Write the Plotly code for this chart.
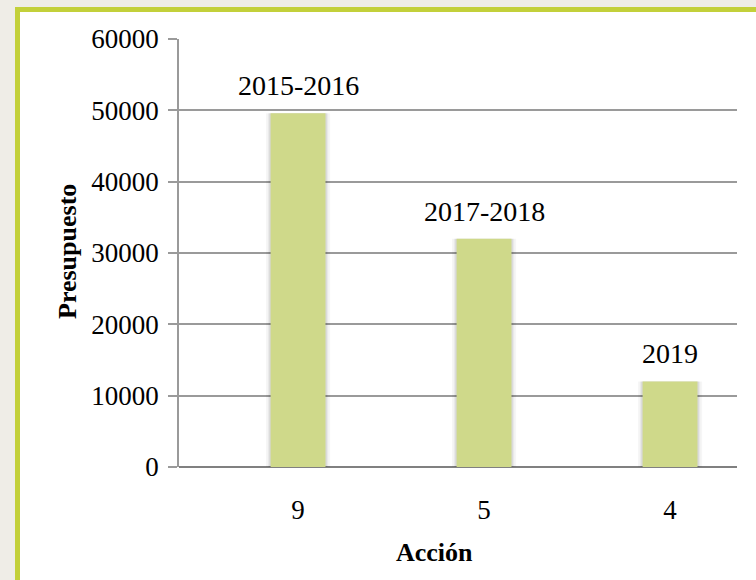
import plotly.graph_objects as go

categories = ["9", "5", "4"]
values = [49600, 32000, 12000]
bar_labels = ["2015-2016", "2017-2018", "2019"]
y_ticks = [0, 10000, 20000, 30000, 40000, 50000, 60000]
y_tick_text = [str(v) for v in y_ticks]
x_title = "Acción"
y_title = "Presupuesto"

W, H = 756, 580
L, R, T, B = 179, 19, 39, 113
pw, ph = W - L - R, H - T - B

def px_x(px):
    return (px - L) / pw

def px_y(py):
    return (H - B - py) / ph

serif = "Liberation Serif, Times New Roman, serif"

fig = go.Figure()
# soft shadow layers behind the bars
for w, a in [(0.345, 0.035), (0.325, 0.05), (0.31, 0.07)]:
    fig.add_trace(go.Bar(
        x=categories, y=values, width=w,
        marker=dict(color=f"rgba(0,0,0,{a})", line=dict(width=0)),
        hoverinfo="skip",
    ))
fig.add_trace(go.Bar(
    x=categories, y=values,
    marker=dict(color="#cfd98a", line=dict(width=0)),
    width=0.295,
))

# category axis: annotation x positions are the category indices
annotations = [
    dict(text=lab, x=i, y=v, xref="x", yref="y", showarrow=False,
         yanchor="bottom", xanchor="center", yshift=10,
         font=dict(family=serif, size=28, color="#000"))
    for i, (v, lab) in enumerate(zip(values, bar_labels))
]
annotations += [
    dict(text="<b>" + x_title + "</b>", xref="paper", yref="paper",
         x=px_x(434), y=px_y(552), showarrow=False,
         font=dict(family=serif, size=26), xanchor="center", yanchor="middle"),
    dict(text="<b>" + y_title + "</b>", xref="paper", yref="paper",
         x=px_x(67), y=px_y(252), showarrow=False, textangle=-90,
         font=dict(family=serif, size=26), xanchor="center", yanchor="middle"),
]

fig.update_layout(
    width=W, height=H,
    margin=dict(l=L, r=R, t=T, b=B),
    paper_bgcolor="#efede7",
    plot_bgcolor="rgba(0,0,0,0)",
    showlegend=False,
    barmode="overlay",
    font=dict(family=serif, color="#000"),
    shapes=[dict(type="rect", xref="paper", yref="paper",
                 x0=px_x(17.5), x1=px_x(800), y0=px_y(640), y1=px_y(9.5),
                 fillcolor="white", line=dict(color="#c3d03a", width=5),
                 layer="below")],
    annotations=annotations,
)
fig.update_xaxes(
    type="category", range=[-0.64, 2.36],
    showgrid=False, showline=False, ticks="",
    tickfont=dict(family=serif, size=27), ticklabelstandoff=24,
)
fig.update_yaxes(
    range=[0, 60000], tickvals=y_ticks, ticktext=y_tick_text,
    showgrid=True, gridcolor="#9a9a9a", gridwidth=1.5,
    showline=True, linecolor="#9a9a9a", linewidth=1.5,
    ticks="outside", ticklen=9, tickcolor="#9a9a9a", tickwidth=1.5,
    tickfont=dict(family=serif, size=27), ticklabelstandoff=4,
    zeroline=True, zerolinecolor="#808080", zerolinewidth=2,
)

fig.write_html("out.html", config={"displayModeBar": False},
               post_script="document.body.style.margin='0';")
